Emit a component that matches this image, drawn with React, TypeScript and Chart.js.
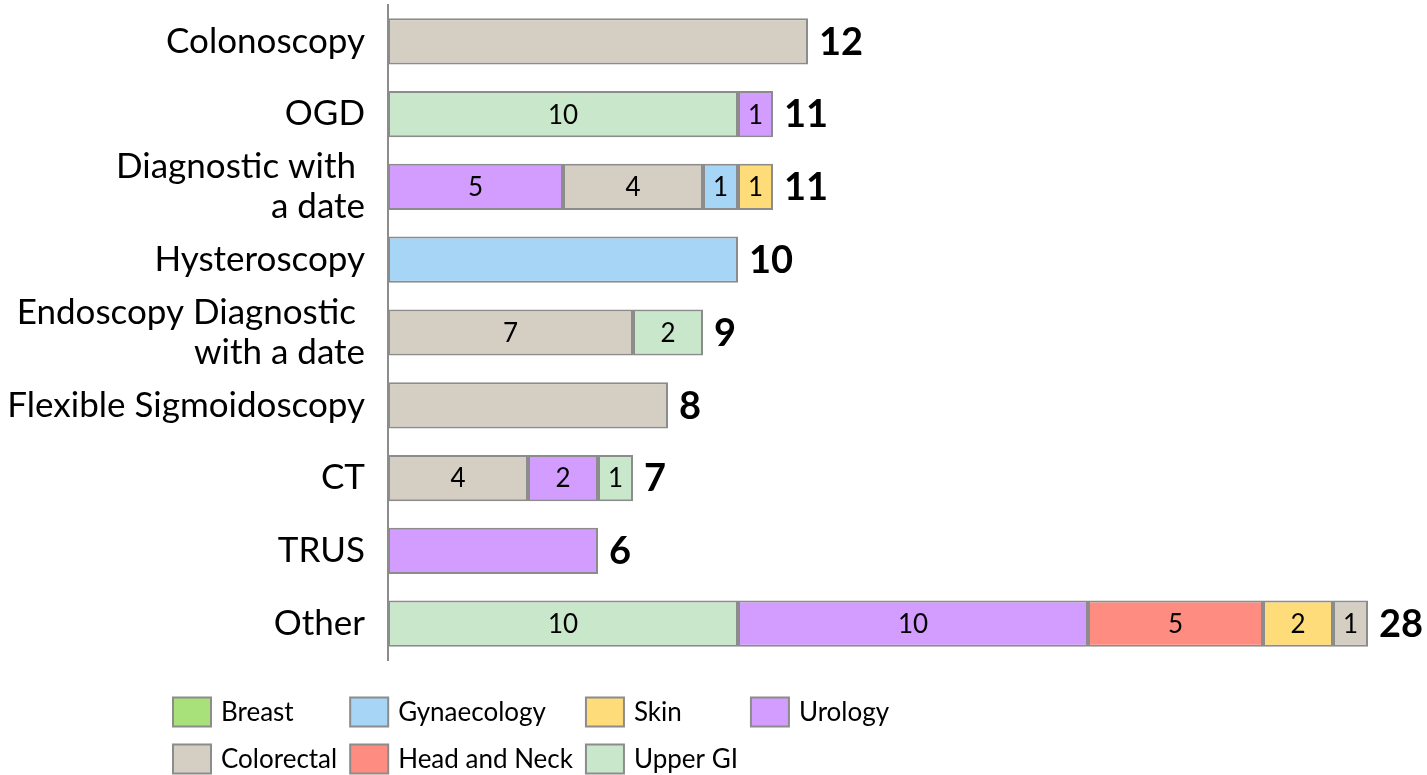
import React, { useEffect, useRef } from 'react';
import { Chart, registerables } from 'chart.js';

Chart.register(...registerables);

const categories: (string | string[])[] = [
  'Colonoscopy',
  'OGD',
  ['Diagnostic with ', 'a date'],
  'Hysteroscopy',
  ['Endoscopy Diagnostic ', 'with a date'],
  'Flexible Sigmoidoscopy',
  'CT',
  'TRUS',
  'Other',
];

const seriesNames = ['Breast', 'Gynaecology', 'Skin', 'Urology', 'Colorectal', 'Head and Neck', 'Upper GI'];
const seriesColors = ['#A8E07A', '#A6D5F5', '#FFDC7A', '#D39CFF', '#D5CEC3', '#FF8C80', '#C9E7CB'];

const breast = [0, 0, 0, 0, 0, 0, 0, 0, 0];
const gynaecology = [0, 0, 1, 10, 0, 0, 0, 0, 0];
const skin = [0, 0, 1, 0, 0, 0, 0, 0, 2];
const urology = [0, 1, 5, 0, 0, 0, 2, 6, 10];
const colorectal = [12, 0, 4, 0, 7, 8, 4, 0, 1];
const headAndNeck = [0, 0, 0, 0, 0, 0, 0, 0, 5];
const upperGI = [0, 10, 0, 0, 2, 0, 1, 0, 10];

const seriesValues: number[][] = [breast, gynaecology, skin, urology, colorectal, headAndNeck, upperGI];

// order of the stacked segments, left to right, per category
const segmentOrder: string[][] = [
  ['Colorectal'],
  ['Upper GI', 'Urology'],
  ['Urology', 'Colorectal', 'Gynaecology', 'Skin'],
  ['Gynaecology'],
  ['Colorectal', 'Upper GI'],
  ['Colorectal'],
  ['Colorectal', 'Urology', 'Upper GI'],
  ['Urology'],
  ['Upper GI', 'Urology', 'Head and Neck', 'Skin', 'Colorectal'],
];

const xMax = 28;
const FONT = 'Lato, "Open Sans", sans-serif';

function buildDatasets() {
  const slots = Math.max(...segmentOrder.map((o) => o.length));
  const datasets: any[] = [];
  for (let s = 0; s < slots; s++) {
    const data: (number | null)[] = [];
    const bg: string[] = [];
    categories.forEach((_, i) => {
      const name = segmentOrder[i][s];
      if (name === undefined) {
        data.push(null);
        bg.push('transparent');
      } else {
        const k = seriesNames.indexOf(name);
        data.push(seriesValues[k][i]);
        bg.push(seriesColors[k]);
      }
    });
    datasets.push({
      label: 'slot' + s,
      data,
      backgroundColor: bg,
      borderColor: '#8C8C8C',
      borderWidth: 2,
      borderSkipped: false,
      barPercentage: 0.635,
      categoryPercentage: 1,
    });
  }
  return datasets;
}

const valueLabels = {
  id: 'valueLabels',
  afterDatasetsDraw(chart: any) {
    const ctx = chart.ctx;
    ctx.save();
    ctx.fillStyle = '#000';
    ctx.textBaseline = 'middle';
    categories.forEach((_, i) => {
      let endX = 0;
      let y = 0;
      let total = 0;
      const multi = segmentOrder[i].length > 1;
      chart.data.datasets.forEach((ds: any, d: number) => {
        const v = ds.data[i];
        if (v == null) return;
        const el = chart.getDatasetMeta(d).data[i];
        total += v;
        if (el.x > endX) endX = el.x;
        y = el.y;
        if (multi) {
          ctx.font = `26px ${FONT}`;
          ctx.textAlign = 'center';
          ctx.fillText(String(v), (el.base + el.x) / 2, el.y + 1);
        }
      });
      ctx.font = `bold 38px ${FONT}`;
      ctx.textAlign = 'left';
      ctx.fillText(String(total), endX + 11, y + 1);
    });
    ctx.restore();
  },
};

const gridLegend = {
  id: 'gridLegend',
  afterDraw(chart: any) {
    const ctx = chart.ctx;
    ctx.save();
    ctx.font = `26px ${FONT}`;
    ctx.textBaseline = 'middle';
    ctx.textAlign = 'left';
    const cols = 4;
    const boxW = 38;
    const boxH = 29;
    const gapText = 10;
    const gapCol = 13;
    const rowY = [chart.chartArea.bottom + 52, chart.chartArea.bottom + 99];
    const colW: number[] = [];
    seriesNames.forEach((n, k) => {
      const c = k % cols;
      const w = boxW + gapText + ctx.measureText(n).width + gapCol;
      colW[c] = Math.max(colW[c] || 0, w);
    });
    const left = 173;
    seriesNames.forEach((n, k) => {
      const c = k % cols;
      const r = Math.floor(k / cols);
      let x = left;
      for (let j = 0; j < c; j++) x += colW[j];
      const cy = rowY[r];
      ctx.fillStyle = seriesColors[k];
      ctx.fillRect(x, cy - boxH / 2, boxW, boxH);
      ctx.strokeStyle = '#8C8C8C';
      ctx.lineWidth = 2;
      ctx.strokeRect(x, cy - boxH / 2, boxW, boxH);
      ctx.fillStyle = '#000';
      ctx.fillText(n, x + boxW + gapText, cy + 1);
    });
    ctx.restore();
  },
};

export default function App() {
  const ref = useRef<HTMLCanvasElement | null>(null);
  useEffect(() => {
    document.body.style.margin = '0';
    if (!ref.current) return;
    const chart = new Chart(ref.current, {
      type: 'bar',
      data: { labels: categories as any, datasets: buildDatasets() },
      options: {
        indexAxis: 'y',
        animation: false,
        responsive: false,
        maintainAspectRatio: false,
        layout: { padding: { top: 5, right: 59, bottom: 115, left: 0 } },
        plugins: { legend: { display: false }, tooltip: { enabled: false } },
        scales: {
          x: { stacked: true, min: 0, max: xMax, display: false },
          y: {
            stacked: true,
            offset: true,
            grid: { display: false, drawTicks: false },
            border: { display: true, color: '#8C8C8C', width: 2 },
            ticks: {
              autoSkip: false,
              color: '#000',
              padding: 23,
              font: { family: FONT, size: 35, lineHeight: 1.15 },
            },
            afterFit(scale: any) {
              scale.width = 388;
              scale.paddingTop = 0;
              scale.paddingBottom = 0;
            },
          },
        },
      },
      plugins: [valueLabels, gridLegend],
    });
    return () => chart.destroy();
  }, []);
  return (
    <div style={{ width: 1427, height: 775 }}>
      <canvas ref={ref} width={1427} height={775} style={{ display: 'block', width: 1427, height: 775 }} />
    </div>
  );
}
